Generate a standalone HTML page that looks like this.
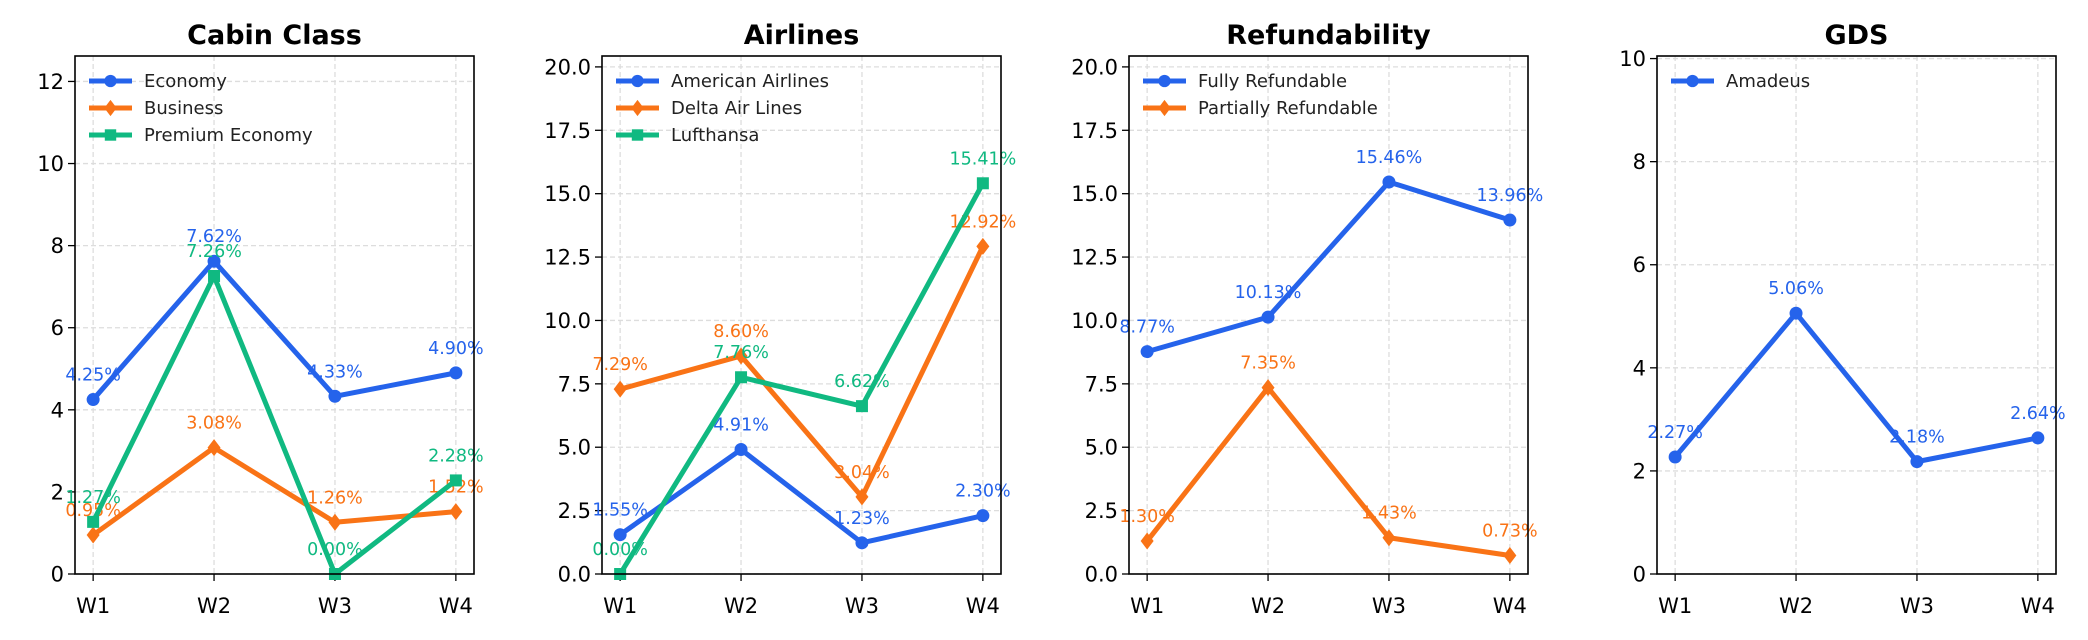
<!DOCTYPE html>
<html><head><meta charset="utf-8"><style>
html,body{margin:0;padding:0;background:#fff;}
svg{display:block;font-family:"DejaVu Sans","Liberation Sans",sans-serif;}
</style></head><body>
<svg id="chart" width="2088" height="640" viewBox="0 0 2088 640" xmlns="http://www.w3.org/2000/svg"></svg>
<script>
const categories = ["W1","W2","W3","W4"];
const cabinEconomy = [4.25,7.62,4.33,4.90];
const cabinBusiness = [0.95,3.08,1.26,1.52];
const cabinPremium = [1.27,7.26,0.00,2.28];
const airAmerican = [1.55,4.91,1.23,2.30];
const airDelta = [7.29,8.60,3.04,12.92];
const airLufthansa = [0.00,7.76,6.62,15.41];
const refFully = [8.77,10.13,15.46,13.96];
const refPartial = [1.30,7.35,1.43,0.73];
const gdsAmadeus = [2.27,5.06,2.18,2.64];
const ticksCabin = [0,2,4,6,8,10,12];
const ticksAir = [0,2.5,5,7.5,10,12.5,15,17.5,20];
const ticksRef = [0,2.5,5,7.5,10,12.5,15,17.5,20];
const ticksGds = [0,2,4,6,8,10];

const BLUE="#2563eb", ORANGE="#f97316", GREEN="#10b981";
const panels = [
 {title:"Cabin Class", name:"cabin-class", left:75, ymax:12.62, ticks:ticksCabin, dec:0,
  series:[{label:"Economy",data:cabinEconomy,color:BLUE,m:"o"},{label:"Business",data:cabinBusiness,color:ORANGE,m:"d"},{label:"Premium Economy",data:cabinPremium,color:GREEN,m:"s"}]},
 {title:"Airlines", name:"airlines", left:602, ymax:20.43, ticks:ticksAir, dec:1,
  series:[{label:"American Airlines",data:airAmerican,color:BLUE,m:"o"},{label:"Delta Air Lines",data:airDelta,color:ORANGE,m:"d"},{label:"Lufthansa",data:airLufthansa,color:GREEN,m:"s"}]},
 {title:"Refundability", name:"refundability", left:1129, ymax:20.43, ticks:ticksRef, dec:1,
  series:[{label:"Fully Refundable",data:refFully,color:BLUE,m:"o"},{label:"Partially Refundable",data:refPartial,color:ORANGE,m:"d"}]},
 {title:"GDS", name:"gds", left:1657, ymax:10.05, ticks:ticksGds, dec:0,
  series:[{label:"Amadeus",data:gdsAmadeus,color:BLUE,m:"o"}]}
];
const svg=document.getElementById("chart");
const NS="http://www.w3.org/2000/svg";
function mk(tag,attrs,parent){const e=document.createElementNS(NS,tag);for(const k in attrs)e.setAttribute(k,attrs[k]);(parent||svg).appendChild(e);return e;}
const TOP=56, BOT=574, W=399;
function marker(g,m,x,y,c,s){
  let e;
  if(m==="o") e=mk("circle",{cx:x,cy:y,r:6.5*s,fill:c},g);
  else if(m==="d") e=mk("polygon",{points:`${x},${y-8.5*s} ${x+6.5*s},${y} ${x},${y+8.5*s} ${x-6.5*s},${y}`,fill:c},g);
  else e=mk("rect",{x:x-6*s,y:y-6*s,width:12*s,height:12*s,fill:c},g);
  return e;
}
panels.forEach(p=>{
  const g=mk("g",{});
  
  
  const xs=i=>p.left+W*(i+0.15)/3.3;
  const ys=v=>BOT-(v/p.ymax)*(BOT-TOP);
  p.ticks.forEach(t=>{
    const l=mk("line",{x1:p.left,x2:p.left+W,y1:ys(t),y2:ys(t),stroke:"#dddddd","stroke-width":1.3,"stroke-dasharray":"5,3"},g);
    
    
  });
  categories.forEach((c,i)=>{
    const l=mk("line",{x1:xs(i),x2:xs(i),y1:TOP,y2:BOT,stroke:"#dddddd","stroke-width":1.3,"stroke-dasharray":"5,3"},g);
    
    
  });
  p.ticks.forEach(t=>{
    mk("line",{x1:p.left-7,x2:p.left,y1:ys(t),y2:ys(t),stroke:"#000","stroke-width":1.3},g);
    const tx=mk("text",{x:p.left-11,y:ys(t)+7.5,"text-anchor":"end","font-size":21,fill:"#000"},g);
    tx.textContent=t.toFixed(p.dec);
    
    
  });
  categories.forEach((c,i)=>{
    mk("line",{x1:xs(i),x2:xs(i),y1:BOT,y2:BOT+7,stroke:"#000","stroke-width":1.3},g);
    const tx=mk("text",{x:xs(i),y:BOT+39,"text-anchor":"middle","font-size":21,fill:"#000"},g);
    tx.textContent=c;
    
    
  });
  p.series.forEach(s=>{
    const sg=mk("g",{},g);
    
    
    const pts=s.data.map((v,i)=>xs(i)+","+ys(v)).join(" ");
    mk("polyline",{points:pts,fill:"none",stroke:s.color,"stroke-width":5,"stroke-linejoin":"round"},sg);
    s.data.forEach((v,i)=>{
      const m=marker(sg,s.m,xs(i),ys(v),s.color,1);
      
      
      const t=mk("text",{x:xs(i),y:ys(v)-19,"text-anchor":"middle","font-size":17.5,fill:s.color},sg);
      t.textContent=v.toFixed(2)+"%";
      
      
    });
  });
  p.series.forEach((s,k)=>{
    const lg=mk("g",{},g);
    
    
    const y=TOP+25+k*27;
    mk("line",{x1:p.left+14,x2:p.left+57,y1:y,y2:y,stroke:s.color,"stroke-width":5}, lg);
    marker(lg,s.m,p.left+35.5,y,s.color,0.95);
    const t=mk("text",{x:p.left+69,y:y+6,"font-size":18,fill:"#222"},lg);
    t.textContent=s.label;
  });
  const fr=mk("rect",{x:p.left,y:TOP,width:W,height:BOT-TOP,fill:"none",stroke:"#000","stroke-width":1.6},g);
  
  
  const tt=mk("text",{x:p.left+W/2,y:44,"text-anchor":"middle","font-size":27,"font-weight":"bold",fill:"#000"},g);
  tt.textContent=p.title;
  
  
});
</script>
</body></html>
